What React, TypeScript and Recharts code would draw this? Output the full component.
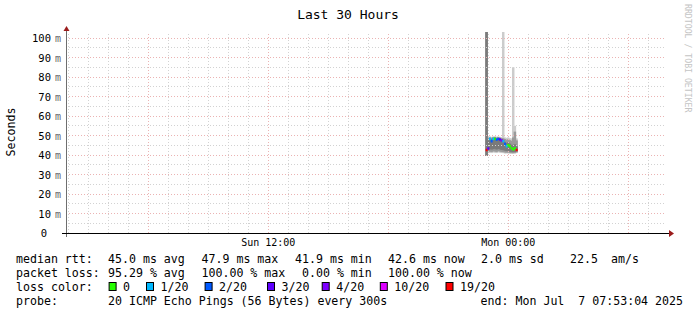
import React from "react";
import { Bar, ComposedChart, ReferenceLine, Scatter, XAxis, YAxis } from "recharts";

const endTime = "Mon 07:53:04";
const spanHours = 30;

// one SmokePing sample every 300 s
const sampleTimes = [
  "Sun 22:55", "Sun 23:00", "Sun 23:05", "Sun 23:10", "Sun 23:15", "Sun 23:20",
  "Sun 23:25", "Sun 23:30", "Sun 23:35", "Sun 23:40", "Sun 23:45", "Sun 23:50",
  "Sun 23:55", "Mon 00:00", "Mon 00:05", "Mon 00:10", "Mon 00:15", "Mon 00:20",
  "Mon 00:25",
];
const medianMs = [42.7, 43.5, 48.4, 47.2, 48.4, 48.4, 48.0, 48.4, 48.1, 47.6, 47.2, 45.8, 44.6, 45.2, 44.6, 43.6, 43.0, 43.6, 42.7];
const lossOf20 = [19, 3, 1, 2, 1, 0, 2, 2, 3, 4, 1, 2, 1, 0, 0, 0, 0, 0, 19];
const minMs = [39.5, 41.0, 41.2, 41.0, 41.3, 41.2, 41.0, 41.4, 41.2, 41.0, 41.0, 40.8, 40.8, 40.9, 40.7, 40.6, 40.6, 40.7, 41.0];
const p10Ms = [39.5, 41.5, 41.8, 41.6, 41.9, 41.8, 41.6, 42.0, 41.8, 41.6, 41.5, 41.3, 41.2, 41.3, 41.1, 41.0, 41.0, 41.1, 41.4];
const q1Ms = [39.5, 42.5, 43.0, 42.8, 43.0, 43.2, 42.8, 43.1, 42.9, 42.6, 42.5, 42.2, 42.0, 42.1, 41.8, 41.6, 41.5, 41.6, 42.0];
const q3Ms = [103.1, 47.5, 48.5, 48.2, 48.6, 48.8, 48.3, 48.6, 48.4, 48.0, 47.8, 46.8, 46.2, 46.5, 45.8, 45.2, 45.0, 45.5, 44.5];
const p90Ms = [103.1, 48.6, 49.0, 48.8, 49.1, 49.2, 48.9, 49.1, 48.9, 48.7, 48.6, 48.2, 47.8, 48.0, 47.6, 47.3, 49.0, 52.0, 47.5];
const maxMs = [103.1, 49.2, 49.5, 49.3, 49.5, 49.6, 49.4, 49.5, 49.3, 49.2, 103.1, 49.0, 48.8, 49.0, 48.6, 48.5, 85.0, 55.0, 48.5];

const yTicks = [0, 10, 20, 30, 40, 50, 60, 70, 80, 90, 100];
const yMinorGrid = [5, 15, 25, 35, 45, 55, 65, 75, 85, 95];
const xTicks = [12, 24];
const xTickLabels = ["Sun 12:00", "Mon 00:00"];
const xMajorGrid = [6, 12, 18, 24, 30];
const xMinorGrid = [2, 3, 4, 5, 7, 8, 9, 10, 11, 13, 14, 15, 16, 17, 19, 20, 21, 22, 23, 25, 26, 27, 28, 29, 31];

const lossSteps = [0, 1, 2, 3, 4, 10, 19];
const lossLabels = ["0", "1/20", "2/20", "3/20", "4/20", "10/20", "19/20"];
const lossColors: Record<number, string> = {
  0: "#26ff00",
  1: "#00b8ff",
  2: "#0059ff",
  3: "#5e00ff",
  4: "#7e00ff",
  10: "#dd00ff",
  19: "#ff0000",
};

const toHours = (s: string) => {
  const [day, clock] = s.split(" ");
  const [h, m, sec] = clock.split(":").map(Number);
  return (day === "Mon" ? 24 : 0) + h + m / 60 + (sec || 0) / 3600;
};

const xEnd = toHours(endTime);
const xStart = xEnd - spanHours;

const rows = sampleTimes.map((label, i) => ({
  t: toHours(label),
  median: medianMs[i],
  loss: lossOf20[i],
  outer: [minMs[i], maxMs[i]],
  mid: [p10Ms[i], p90Ms[i]],
  inner: [q1Ms[i], q3Ms[i]],
}));

const FONT = "DejaVu Sans Mono, monospace";

const YTick = ({ x, y, payload }: any) => {
  const v = payload.value;
  if (v === 0) {
    return (
      <text x={x - 19} y={y} dy={4} textAnchor="end" fontFamily={FONT} fontSize={10.5} fill="#000">
        0
      </text>
    );
  }
  return (
    <g>
      <text x={x - 15} y={y} dy={4} textAnchor="end" fontFamily={FONT} fontSize={10.5} fill="#000">
        {v}
      </text>
      <text x={x - 11} y={y} dy={4} fontFamily={FONT} fontSize={10} fill="#666">
        m
      </text>
    </g>
  );
};

const XTick = ({ x, y, payload }: any) => (
  <text x={x} y={y} dy={13} textAnchor="middle" fontFamily={FONT} fontSize={10} fill="#000">
    {xTickLabels[xTicks.indexOf(payload.value)]}
  </text>
);

// smoke column, kept at least 2.5px wide so one 300s sample stays visible
const SmokeColumn = (props: any) => {
  const { x, y, width, height, fill } = props;
  if (x == null || y == null || !height) return null;
  const w = Math.max(width || 0, 2.5);
  return <rect x={x + (width || 0) / 2 - w / 2} y={y} width={w} height={height} fill={fill} />;
};

const MedianMark = (props: any) => {
  const { cx, cy, payload } = props;
  if (cx == null || cy == null) return null;
  return <rect x={cx - 1} y={cy - 1} width={2} height={2.5} fill={lossColors[payload.loss]} />;
};

const legendSquareX = [108.6, 146, 204.6, 267, 321.7, 379.8, 445.5];

function Overlay() {
  const txt = { fontFamily: FONT, fontSize: 11.6, fill: "#000", whiteSpace: "pre" as const };
  return (
    <svg
      width={697}
      height={315}
      style={{ position: "absolute", left: 0, top: 0, pointerEvents: "none" }}
    >
      <text x={348} y={18.5} textAnchor="middle" style={{ ...txt, fontSize: 13 }}>
        Last 30 Hours
      </text>
      <text x={15} y={132} textAnchor="middle" transform="rotate(-90 15 132)" style={txt}>
        Seconds
      </text>
      <text x={685} y={4} transform="rotate(90 685 4)" style={{ ...txt, fontSize: 8.2, fill: "#c4c4c4" }}>
        RRDTOOL / TOBI OETIKER
      </text>

      {/* axes */}
      <line x1={66.5} y1={237} x2={66.5} y2={30} stroke="#6e6e6e" strokeWidth={1} />
      <polygon points="63.5,31 69.5,31 66.5,26" fill="#9b1c1c" />
      <line x1={62} y1={233.5} x2={670} y2={233.5} stroke="#000" strokeWidth={1.2} />
      <polygon points="669,230 669,237 674,233.5" fill="#9b1c1c" />

      {/* legend */}
      <text x={16} y={263} style={txt}>median rtt:</text>
      <text x={108} y={263} style={txt}>45.0 ms avg</text>
      <text x={201.5} y={263} style={txt}>47.9 ms max</text>
      <text x={295} y={263} style={txt}>41.9 ms min</text>
      <text x={388} y={263} style={txt}>42.6 ms now</text>
      <text x={481} y={263} style={txt}>2.0 ms sd</text>
      <text x={570} y={263} style={txt}>22.5</text>
      <text x={611} y={263} style={txt}>am/s</text>

      <text x={16} y={277} style={txt}>packet loss:</text>
      <text x={108} y={277} style={txt}>95.29 % avg</text>
      <text x={201.5} y={277} style={txt}>100.00 % max</text>
      <text x={302} y={277} style={txt}>0.00 % min</text>
      <text x={388} y={277} style={txt}>100.00 % now</text>

      <text x={16} y={291} style={txt}>loss color:</text>
      {lossSteps.map((s, i) => (
        <g key={s}>
          <rect
            x={legendSquareX[i] + 0.5}
            y={282.5}
            width={7}
            height={8}
            fill={lossColors[s]}
            stroke="#000"
            strokeWidth={1}
          />
          <text x={legendSquareX[i] + 14.5} y={291} style={txt}>
            {lossLabels[i]}
          </text>
        </g>
      ))}

      <text x={16} y={305} style={txt}>probe:</text>
      <text x={108} y={305} style={txt}>20 ICMP Echo Pings (56 Bytes) every 300s</text>
      <text x={683} y={305} textAnchor="end" style={txt}>end: Mon Jul  7 07:53:04 2025</text>
    </svg>
  );
}

export default function App() {
  return (
    <div style={{ position: "absolute", left: 0, top: 0, width: 697, height: 315, background: "#fff" }}>
      <style>{`
        .recharts-reference-line line { shape-rendering: crispEdges; }
      `}</style>
      <ComposedChart
        width={697}
        height={315}
        data={rows}
        margin={{ top: 32, right: 31, bottom: 62, left: 6 }}
      >
        <XAxis
          xAxisId="t"
          dataKey="t"
          type="number"
          domain={[xStart, xEnd]}
          allowDataOverflow
          ticks={xTicks}
          tick={<XTick />}
          tickLine={false}
          axisLine={false}
          tickSize={0}
          tickMargin={0}
          height={20}
          interval={0}
        />
        <XAxis xAxisId="t2" dataKey="t" type="number" domain={[xStart, xEnd]} allowDataOverflow hide />
        <XAxis xAxisId="t3" dataKey="t" type="number" domain={[xStart, xEnd]} allowDataOverflow hide />
        <YAxis
          type="number"
          domain={[0, 103.1]}
          allowDataOverflow
          ticks={yTicks}
          tick={<YTick />}
          tickLine={false}
          axisLine={false}
          tickSize={0}
          tickMargin={0}
          width={60}
          interval={0}
        />
        {yMinorGrid.map((v) => (
          <ReferenceLine key={`ym${v}`} xAxisId="t" y={v} stroke="#d2d2d2" strokeDasharray="1 2" />
        ))}
        {xMinorGrid.map((v) => (
          <ReferenceLine key={`xm${v}`} xAxisId="t" x={v} stroke="#d2d2d2" strokeDasharray="1 2" />
        ))}
        {yTicks.slice(1).map((v) => (
          <ReferenceLine key={`yM${v}`} xAxisId="t" y={v} stroke="#ebb3b3" strokeDasharray="1 2" />
        ))}
        {xMajorGrid.map((v) => (
          <ReferenceLine key={`xM${v}`} xAxisId="t" x={v} stroke="#ebb3b3" strokeDasharray="1 2" />
        ))}
        <Bar xAxisId="t" dataKey="outer" fill="#cccccc" barSize={2} shape={<SmokeColumn />} isAnimationActive={false} />
        <Bar xAxisId="t2" dataKey="mid" fill="#9a9a9a" barSize={2} shape={<SmokeColumn />} isAnimationActive={false} />
        <Bar xAxisId="t3" dataKey="inner" fill="#7a7a7a" barSize={2} shape={<SmokeColumn />} isAnimationActive={false} />
        <Scatter xAxisId="t" dataKey="median" shape={<MedianMark />} isAnimationActive={false} />
      </ComposedChart>
      <Overlay />
    </div>
  );
}
